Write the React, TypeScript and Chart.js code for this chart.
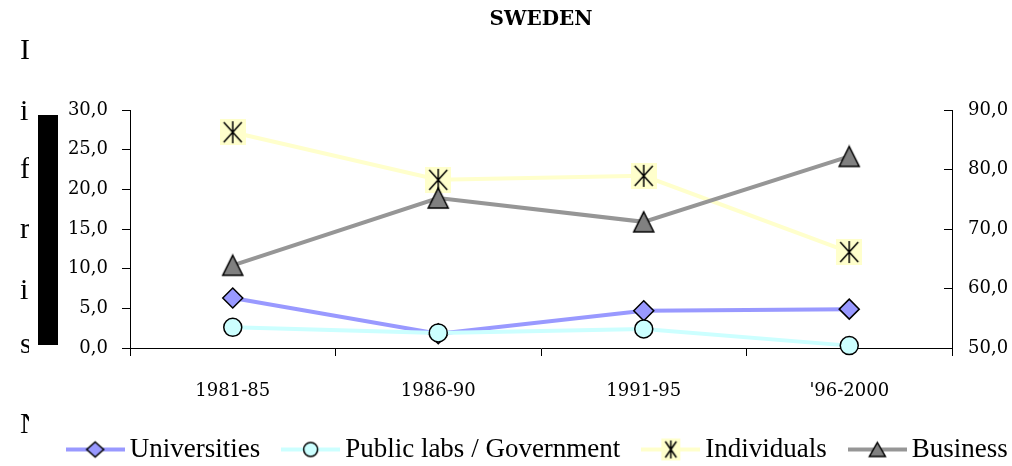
import React, { useEffect, useRef } from "react";
import { Chart, registerables } from "chart.js";

Chart.register(...registerables);

// ---- data ----
const categories = ["1981-85", "1986-90", "1991-95", "'96-2000"];
const universities = [6.3, 1.8, 4.7, 4.9];
const publicLabs = [2.6, 1.9, 2.4, 0.3];
const individuals = [27.2, 21.2, 21.7, 12.1];
const business = [63.9, 75.2, 71.2, 82.2];
const seriesNames = ["Universities", "Public labs / Government", "Individuals", "Business"];
const leftTickValues = [0, 5, 10, 15, 20, 25, 30];
const leftTickLabels = ["0,0", "5,0", "10,0", "15,0", "20,0", "25,0", "30,0"];
const rightTickValues = [50, 60, 70, 80, 90];
const rightTickLabels = ["50,0", "60,0", "70,0", "80,0", "90,0"];
const chartTitle = "SWEDEN";
const sideLetters = ["I", "in", "f", "r", "in", "s", "N"];
const sideBaselines = [59, 120, 178, 238, 299, 353, 433];

// ---- styles ----
const UNI = "#9999FF";
const PUB = "#CCFFFF";
const IND = "#FFFFCC";
const BUS_LINE = "#969696";
const BUS_FILL = "#808080";

function makeCanvas(w: number, h: number, draw: (ctx: CanvasRenderingContext2D) => void) {
  const c = document.createElement("canvas");
  c.width = w;
  c.height = h;
  const ctx = c.getContext("2d") as CanvasRenderingContext2D;
  draw(ctx);
  return c;
}

function drawTriangle(ctx: CanvasRenderingContext2D, cx: number, cy: number, w: number, h: number) {
  ctx.beginPath();
  ctx.moveTo(cx, cy - h / 2);
  ctx.lineTo(cx + w / 2, cy + h / 2);
  ctx.lineTo(cx - w / 2, cy + h / 2);
  ctx.closePath();
  ctx.fillStyle = BUS_FILL;
  ctx.fill();
  ctx.strokeStyle = "#000";
  ctx.lineWidth = 1.5;
  ctx.stroke();
}

function drawStar(ctx: CanvasRenderingContext2D, cx: number, cy: number, w: number, h: number) {
  ctx.fillStyle = IND;
  ctx.fillRect(cx - w / 2, cy - h / 2, w, h);
  ctx.strokeStyle = "#000";
  ctx.lineWidth = 1.5;
  const ax = w / 2 - 4;
  const ay = h / 2 - 3;
  ctx.beginPath();
  ctx.moveTo(cx - ax, cy - ay);
  ctx.lineTo(cx + ax, cy + ay);
  ctx.moveTo(cx + ax, cy - ay);
  ctx.lineTo(cx - ax, cy + ay);
  ctx.moveTo(cx, cy - ay - 1);
  ctx.lineTo(cx, cy + ay + 1);
  ctx.stroke();
}

function drawDiamond(ctx: CanvasRenderingContext2D, cx: number, cy: number, hw: number, hh: number) {
  ctx.beginPath();
  ctx.moveTo(cx, cy - hh);
  ctx.lineTo(cx + hw, cy);
  ctx.lineTo(cx, cy + hh);
  ctx.lineTo(cx - hw, cy);
  ctx.closePath();
  ctx.fillStyle = UNI;
  ctx.fill();
  ctx.strokeStyle = "#000";
  ctx.lineWidth = 1.5;
  ctx.stroke();
}

function drawCircle(ctx: CanvasRenderingContext2D, cx: number, cy: number, r: number) {
  ctx.beginPath();
  ctx.arc(cx, cy, r, 0, Math.PI * 2);
  ctx.fillStyle = PUB;
  ctx.fill();
  ctx.strokeStyle = "#000";
  ctx.lineWidth = 1.5;
  ctx.stroke();
}

function legendImage(color: string, marker: (ctx: CanvasRenderingContext2D, cx: number, cy: number) => void) {
  const W = 59;
  const H = 26;
  return makeCanvas(W, H, (ctx) => {
    ctx.strokeStyle = color;
    ctx.lineWidth = 4;
    ctx.beginPath();
    ctx.moveTo(0, H / 2);
    ctx.lineTo(W, H / 2);
    ctx.stroke();
    marker(ctx, W / 2, H / 2);
  });
}

export default function App() {
  const ref = useRef<HTMLCanvasElement | null>(null);

  useEffect(() => {
    if (!ref.current) return;
    const triImg = makeCanvas(24, 24, (ctx) => drawTriangle(ctx, 12, 12, 20, 20));
    const starImg = makeCanvas(26, 26, (ctx) => drawStar(ctx, 13, 13, 26, 26));
    const legendImgs = [
      legendImage(UNI, (ctx, x, y) => drawDiamond(ctx, x, y, 8.5, 7.5)),
      legendImage(PUB, (ctx, x, y) => drawCircle(ctx, x, y, 7)),
      legendImage(IND, (ctx, x, y) => drawStar(ctx, x, y, 19, 22)),
      legendImage(BUS_LINE, (ctx, x, y) => drawTriangle(ctx, x, y, 16, 14)),
    ];

    const tickFont = { family: "'DejaVu Serif'", size: 18 };

    const chart = new Chart(ref.current, {
      type: "line",
      data: {
        labels: categories,
        datasets: [
          {
            label: seriesNames[0],
            data: universities,
            yAxisID: "y",
            borderColor: UNI,
            backgroundColor: UNI,
            borderWidth: 4,
            pointStyle: "rectRot",
            pointRadius: 10,
            pointBackgroundColor: UNI,
            pointBorderColor: "#000",
            pointBorderWidth: 1.5,
            tension: 0,
            clip: false,
            order: 3,
          },
          {
            label: seriesNames[1],
            data: publicLabs,
            yAxisID: "y",
            borderColor: PUB,
            backgroundColor: PUB,
            borderWidth: 4,
            pointStyle: "circle",
            pointRadius: 9,
            pointBackgroundColor: PUB,
            pointBorderColor: "#000",
            pointBorderWidth: 1.5,
            tension: 0,
            clip: false,
            order: 2,
          },
          {
            label: seriesNames[2],
            data: individuals,
            yAxisID: "y",
            borderColor: IND,
            backgroundColor: IND,
            borderWidth: 4,
            pointStyle: starImg,
            pointRadius: 10,
            tension: 0,
            clip: false,
            order: 1,
          },
          {
            label: seriesNames[3],
            data: business,
            yAxisID: "y2",
            borderColor: BUS_LINE,
            backgroundColor: BUS_FILL,
            borderWidth: 4,
            pointStyle: triImg,
            pointRadius: 10,
            tension: 0,
            clip: false,
            order: 0,
          },
        ] as any,
      },
      options: {
        responsive: false,
        animation: false,
        devicePixelRatio: 1,
        layout: { padding: 0 },
        plugins: {
          title: {
            display: true,
            text: chartTitle,
            color: "#000",
            font: { family: "'DejaVu Serif'", size: 20, weight: "bold" },
            padding: { top: 8, bottom: 78 },
          },
          legend: {
            position: "bottom",
            labels: {
              usePointStyle: true,
              pointStyleWidth: 42,
              padding: 29.5,
              color: "#000",
              font: { family: "'Liberation Serif'", size: 27 },
              generateLabels: () =>
                seriesNames.map((name, i) => ({
                  text: name,
                  pointStyle: legendImgs[i],
                  fillStyle: "rgba(0,0,0,0)",
                  strokeStyle: "rgba(0,0,0,0)",
                  lineWidth: 0,
                  hidden: false,
                  datasetIndex: i,
                  fontColor: "#000",
                })) as any,
            },
          },
          tooltip: { enabled: false },
        },
        scales: {
          x: {
            type: "category",
            offset: true,
            grid: { offset: true, drawOnChartArea: false, drawTicks: true, tickLength: 8, color: "#000" },
            border: { color: "#000", width: 1 },
            ticks: { color: "#000", font: tickFont, padding: 25, maxRotation: 0, autoSkip: false },
            afterFit: (s: any) => {
              s.height = 58.5;
            },
          },
          y: {
            position: "left",
            min: 0,
            max: 30,
            grid: { drawOnChartArea: false, drawTicks: true, tickLength: 8, color: "#000" },
            border: { color: "#000", width: 1 },
            ticks: {
              stepSize: 5,
              color: "#000",
              font: tickFont,
              padding: 14,
              callback: (v: any) => leftTickLabels[leftTickValues.indexOf(Number(v))],
            },
            afterFit: (s: any) => {
              s.width = 130;
            },
          },
          y2: {
            position: "right",
            min: 50,
            max: 90,
            grid: { drawOnChartArea: false, drawTicks: true, tickLength: -8, color: "#000" },
            border: { color: "#000", width: 1 },
            ticks: {
              stepSize: 10,
              color: "#000",
              font: tickFont,
              padding: 24,
              callback: (v: any) => rightTickLabels[rightTickValues.indexOf(Number(v))],
            },
            afterFit: (s: any) => {
              s.width = 130;
            },
          },
        },
      } as any,
    });
    return () => chart.destroy();
  }, []);

  return (
    <div
      style={{
        position: "absolute",
        left: 0,
        top: 0,
        width: 1012,
        height: 466,
        overflow: "hidden",
        background: "#fff",
      }}
    >
      <canvas
        ref={ref}
        width={1082}
        height={473}
        style={{ position: "absolute", left: 0, top: 0, width: 1082, height: 473 }}
      />
      <div style={{ position: "absolute", left: 0, top: 0, width: 29, height: 466, overflow: "hidden" }}>
        {sideLetters.map((t, i) => (
          <div
            key={i}
            style={{
              position: "absolute",
              left: 20,
              top: sideBaselines[i] - 25,
              fontFamily: "'Liberation Serif'",
              fontSize: 30,
              lineHeight: "30px",
              whiteSpace: "nowrap",
              color: "#000",
            }}
          >
            {t}
          </div>
        ))}
      </div>
      <div style={{ position: "absolute", left: 38, top: 115, width: 20, height: 230, background: "#000" }} />
    </div>
  );
}
